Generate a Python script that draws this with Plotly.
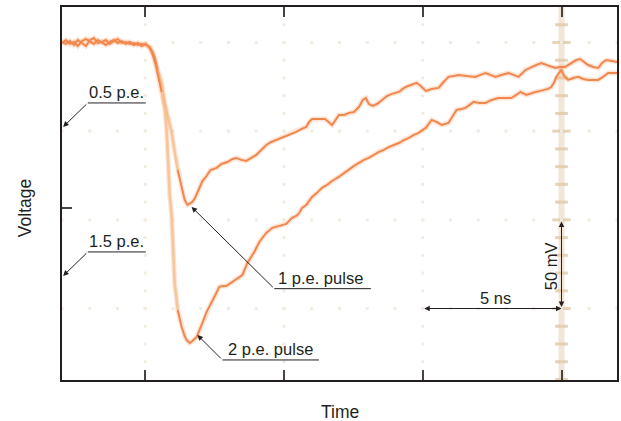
import plotly.graph_objects as go

# Oscilloscope capture: time (ns) and voltage (mV) of the two single-photon pulses
t_1pe = [0.00, 0.14, 0.29, 0.43, 0.57, 0.72, 0.86, 1.01, 1.15, 1.29, 1.44, 1.58, 1.72, 1.87, 2.01, 2.15,
         2.30, 2.44, 2.59, 2.73, 2.87, 3.02, 3.16, 3.27, 3.34, 3.45, 3.59, 3.70, 3.81, 3.95, 4.06, 4.17,
         4.31, 4.42, 4.52, 4.60, 4.70, 4.81, 4.88, 4.99, 5.06, 5.21, 5.35, 5.57, 5.75, 5.96, 6.14, 6.28,
         6.46, 6.64, 6.82, 7.00, 7.18, 7.36, 7.54, 7.72, 7.90, 8.08, 8.26, 8.44, 8.62, 8.80, 8.90, 9.01,
         9.26, 9.48, 9.73, 9.87, 9.98, 10.16, 10.34, 10.52, 10.70, 10.84, 10.95, 11.06, 11.20, 11.35,
         11.53, 11.71, 11.89, 12.03, 12.14, 12.28, 12.39, 12.57, 12.78, 12.93, 13.11, 13.32, 13.57,
         13.75, 13.93, 14.11, 14.29, 14.58, 14.90, 15.08, 15.26, 15.44, 15.62, 15.83, 16.09, 16.27,
         16.45, 16.70, 16.91, 17.09, 17.27, 17.52, 17.77, 17.95, 18.13, 18.35, 18.53, 18.67, 18.81,
         18.96, 19.14, 19.32, 19.46, 19.61, 19.82, 20.00]
v_1pe = [0.3, -0.8, 0.8, -1.4, 1.4, -0.3, -2.0, 1.4, 2.5, -0.3, 0.3, 1.4, -0.8, 0.8, 2.0, -0.3,
         0.3, -0.8, -0.3, -1.4, -0.8, -1.4, -2.5,
         -5.4, -8.2, -15.5, -22.8, -34.1, -42.0, -50.4, -61.7, -71.9, -81.5,
         -88.8, -91.6, -91.0, -89.9, -87.1, -84.8, -80.9, -78.1, -75.3, -71.9,
         -70.7, -68.5, -67.4, -65.7, -65.1, -66.2, -66.8, -65.1, -63.4, -60.6,
         -57.8, -56.1, -55.0, -53.8, -52.7, -51.6, -50.4, -48.8, -47.6, -44.8,
         -43.1, -43.1, -43.1, -46.5, -43.1, -40.9, -40.9, -39.7, -39.2, -36.4,
         -32.4, -31.3, -34.7, -35.8, -34.7, -32.4, -30.2, -29.0, -28.5, -27.9,
         -26.2, -25.1, -24.0, -22.8, -24.5, -27.3, -26.2, -25.6, -22.3, -19.4,
         -18.9, -18.3, -18.9, -19.4, -18.3, -17.2, -18.3, -19.4, -18.3, -17.2,
         -18.3, -19.4, -15.5, -13.8, -12.7, -11.6, -13.2, -14.4, -13.8, -13.8,
         -11.6, -9.9, -9.3, -11.0, -12.7, -13.8, -14.4, -11.6, -9.9, -10.4,
         -11.0]

t_2pe = [0.00, 0.14, 0.29, 0.43, 0.57, 0.72, 0.86, 1.01, 1.15, 1.29, 1.44, 1.58, 1.72, 1.87, 2.01, 2.15,
         2.30, 2.44, 2.59, 2.73, 2.87, 3.02, 3.16,
         3.27, 3.38, 3.48, 3.59, 3.70, 3.77, 3.81, 3.88, 3.95, 3.99,
         4.06, 4.17, 4.31, 4.42, 4.49, 4.60, 4.70, 4.85, 4.96, 5.06,
         5.21, 5.31, 5.49, 5.67, 5.78, 5.92, 6.14, 6.32, 6.50, 6.68,
         6.82, 6.93, 7.11, 7.25, 7.36, 7.58, 7.83, 8.08, 8.29, 8.44,
         8.55, 8.65, 8.80, 9.01, 9.19, 9.37, 9.55, 9.73, 9.98, 10.16,
         10.34, 10.52, 10.70, 10.88, 11.06, 11.24, 11.42, 11.60, 11.78, 11.96,
         12.14, 12.32, 12.50, 12.68, 12.85, 13.00, 13.11, 13.32, 13.50, 13.68,
         13.93, 14.08, 14.22, 14.40, 14.54, 14.69, 14.83, 15.04, 15.26, 15.48,
         15.73, 15.98, 16.19, 16.37, 16.52, 16.73, 16.91, 17.06, 17.24, 17.41,
         17.52, 17.63, 17.74, 17.81, 17.92, 17.99, 18.10, 18.24, 18.42, 18.60,
         18.78, 18.96, 19.14, 19.32, 19.50, 19.68, 19.86, 20.00]
v_2pe = [-0.3, 1.4, -0.8, 0.3, -2.0, 0.8, 2.0, 0.3, -0.8, 1.4, -0.3, -1.4, 0.3, 1.4, -0.3, 0.8,
         -0.8, 0.3, -1.4, -0.3, -2.0, -0.8, -3.1,
         -7.0, -12.7, -20.0, -27.9, -36.9, -49.3, -66.2, -86.0, -97.2, -115.3,
         -135.6, -150.8, -160.4, -165.5, -167.7, -169.4, -168.3, -166.1, -162.1, -158.1,
         -151.9, -149.1, -143.5, -137.8, -137.3, -137.3, -135.0, -133.3, -131.1, -124.3,
         -121.0, -118.1, -112.5, -109.6, -107.4, -104.5, -103.4, -102.3, -98.9, -97.8,
         -96.1, -93.3, -91.6, -87.1, -84.8, -82.0, -80.3, -78.1, -75.8, -73.6,
         -71.9, -69.6, -67.9, -66.2, -65.1, -63.4, -61.7, -60.6, -58.9, -57.8,
         -56.7, -55.0, -53.8, -52.1, -51.0, -49.3, -48.2, -43.7, -44.8, -46.5,
         -45.4, -41.4, -38.0, -37.5, -36.9, -35.2, -33.5, -34.1, -34.1, -32.4,
         -31.3, -31.3, -31.3, -29.6, -27.9, -29.6, -28.5, -27.9, -27.3, -26.8,
         -26.2, -25.1, -22.3, -19.4, -17.2, -15.5, -18.9, -21.1, -20.0, -19.4,
         -20.6, -21.1, -21.1, -21.1, -19.4, -17.2, -17.2, -17.2]

# Screen graticule: divisions of 5 ns and 50 mV
div_times = [3, 8, 13, 18]
div_volts = [0, -50, -100, -150]
one_pe_level = -93.3

T_MIN, T_MAX = 0, 20
V_MIN, V_MAX = -190.3, 20

INK = "#231f20"
CORE = "#f2874e"
HALO = "rgba(245,160,110,0.28)"
EDGE = "rgba(246,192,140,0.85)"
FONT = "Liberation Sans, Arial, sans-serif"

fig = go.Figure()

# faint graticule dots
gx, gy = [], []
for t in div_times[:3]:
    for v in range(20, -191, -10):
        gx.append(t); gy.append(v)
for v in div_volts:
    for t in range(0, 21):
        gx.append(t); gy.append(v)
fig.add_trace(go.Scatter(x=gx, y=gy, mode="markers", hoverinfo="skip",
                         marker=dict(symbol="square", size=3, color="#f3ebdf", line=dict(width=0))))

# center graticule column with its minor marks
shapes = [dict(type="rect", xref="x", yref="paper", x0=18 - 0.11, x1=18 + 0.11, y0=0, y1=1,
               fillcolor="rgba(230,210,182,0.55)", line=dict(width=0), layer="below")]
for v in range(10, -191, -10):
    half = 0.33 if v % 50 == 0 else 0.23
    shapes.append(dict(type="line", xref="x", yref="y", x0=18 - half, x1=18 + half, y0=v, y1=v,
                       line=dict(color="rgba(225,200,165,0.8)", width=3), layer="below"))


def draw_trace(t, v, pale_from, pale_to):
    fig.add_trace(go.Scatter(x=t, y=v, mode="lines", hoverinfo="skip",
                             line=dict(color=HALO, width=5)))
    fig.add_trace(go.Scatter(x=t[pale_from - 1:pale_to + 1], y=v[pale_from - 1:pale_to + 1],
                             mode="lines", hoverinfo="skip", line=dict(color=EDGE, width=2.5)))
    fig.add_trace(go.Scatter(x=t[:pale_from], y=v[:pale_from], mode="lines", hoverinfo="skip",
                             line=dict(color=CORE, width=2)))
    fig.add_trace(go.Scatter(x=t[pale_to:], y=v[pale_to:], mode="lines", hoverinfo="skip",
                             line=dict(color=CORE, width=2)))


draw_trace(t_1pe, v_1pe, 26, 31)
draw_trace(t_2pe, v_2pe, 27, 34)

# label underlines
underlines = [
    (0.93, 3.02, -34.1),
    (0.93, 3.02, -118.1),
    (7.65, 11.13, -138.8),
    (5.78, 9.26, -179.0),
]
for x0, x1, y in underlines:
    shapes.append(dict(type="line", xref="x", yref="y", x0=x0, x1=x1, y0=y, y1=y,
                       line=dict(color=INK, width=1)))

annotations = []


def leader(x_tip, y_tip, x_from, y_from, side="end"):
    annotations.append(dict(x=x_tip, y=y_tip, ax=x_from, ay=y_from, xref="x", yref="y",
                            axref="x", ayref="y", text="", showarrow=True, arrowhead=2,
                            arrowsize=1.1, arrowwidth=1, arrowcolor=INK, arrowside=side,
                            standoff=0, startstandoff=0))


def label(x, y, text, angle=0, xanchor="center", yanchor="bottom", size=16.5):
    annotations.append(dict(x=x, y=y, xref="x", yref="y", text=text, showarrow=False,
                            xanchor=xanchor, yanchor=yanchor, textangle=angle,
                            font=dict(family=FONT, size=size, color=INK)))


leader(0.04, -47.6, 0.93, -34.1)
leader(0.04, -131.6, 0.93, -118.1)
leader(4.67, -92.7, 7.65, -138.8)
leader(4.88, -164.9, 5.78, -179.0)
leader(18, -150, 13, -150, side="end+start")
leader(18, -101, 18, -150, side="end+start")

label(1.97, -34.1, "0.5 p.e.")
label(1.97, -118.1, "1.5 p.e.")
label(9.30, -138.8, "1 p.e. pulse")
label(7.52, -179.0, "2 p.e. pulse")
label(15.62, -150, "5 ns")
label(17.63, -126, "50 mV", angle=-90, yanchor="middle")

# axis titles
annotations.append(dict(xref="paper", yref="paper", x=-0.0664, y=0.461, text="Voltage",
                        textangle=-90, showarrow=False, xanchor="center", yanchor="middle",
                        font=dict(family=FONT, size=17.5, color=INK)))
annotations.append(dict(xref="paper", yref="paper", x=0.501, y=-0.086, text="Time",
                        showarrow=False, xanchor="center", yanchor="middle",
                        font=dict(family=FONT, size=17.5, color=INK)))

axis_common = dict(showgrid=False, zeroline=False, showline=True, linecolor=INK, linewidth=2,
                   ticks="inside", ticklen=10, tickwidth=1.5, tickcolor="#444",
                   showticklabels=False)

fig.update_layout(
    width=621, height=421,
    margin=dict(l=62, r=2, t=7, b=41),
    paper_bgcolor="white", plot_bgcolor="white",
    showlegend=False,
    xaxis=dict(range=[T_MIN, T_MAX], tickvals=div_times, mirror="ticks", **axis_common),
    yaxis=dict(range=[V_MIN, V_MAX], tickvals=[one_pe_level], mirror=True, **axis_common),
    shapes=shapes,
    annotations=annotations,
)

fig.write_html("out.html")
